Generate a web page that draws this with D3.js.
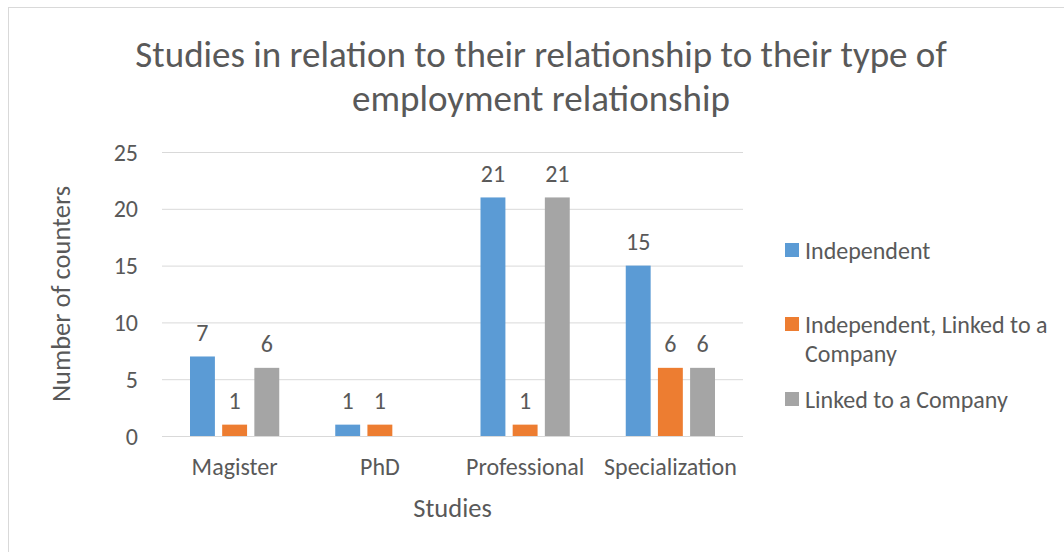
<!DOCTYPE html>
<html lang="en">
<head>
<meta charset="utf-8">
<script src="https://d3js.org/d3.v7.min.js"></script>
<style>
  body { margin: 0; background: #fff; }
  svg { display: block; }
  svg text { font-family: Carlito, Calibri, Lato, sans-serif; fill: #595959; }
  .grid line { stroke: #d9d9d9; stroke-width: 1px; }
  .grid .domain { display: none; }
</style>
</head>
<body>
<svg id="chart" width="1064" height="552"></svg>
<script>
// data
const categories = ["Magister", "PhD", "Professional", "Specialization"]
const seriesNames = ["Independent", "Independent, Linked to a Company", "Linked to a Company"]
const independent = [7, 1, 21, 15]
const independentLinked = [1, 1, 1, 6]
const linked = [6, null, 21, 6]   // PhD has no bar for this series
const yTicks = [0, 5, 10, 15, 20, 25]
const colors = ["#5b9bd5", "#ed7d31", "#a5a5a5"]

const allSeries = [independent, independentLinked, linked]

const svg = d3.select("#chart")
const labelSize = "24px", axisTitleSize = "26.5px"

// chart frame (only top and left edges are inside the picture)
svg.append("rect").attr("x", 8.5).attr("y", 7.5).attr("width", 1200).attr("height", 700)
  .attr("fill", "none").attr("stroke", "#d9d9d9")

// title
const title = svg.append("text").attr("text-anchor", "middle")
  .style("font-size", "37px").style("font-weight", 300)
title.append("tspan").attr("x", 541).attr("y", 67).text("Studies in relation to their relationship to their type of")
title.append("tspan").attr("x", 541).attr("y", 111).text("employment relationship")

const plotLeft = 162, plotRight = 743, plotTop = 152, plotBottom = 436

const x0 = d3.scaleBand().domain(categories).range([plotLeft, plotRight])
const x1 = d3.scaleBand().domain(d3.range(seriesNames.length))
  .range([28, x0.bandwidth() - 28]).paddingInner(0.226)
const y = d3.scaleLinear().domain([0, 25]).range([plotBottom, plotTop])

// gridlines + y labels
svg.append("g").attr("class", "grid")
  .attr("transform", `translate(${plotLeft},0)`)
  .call(d3.axisLeft(y).tickValues(yTicks).tickSize(-(plotRight - plotLeft)).tickPadding(24))
  .attr("font-family", null)
  .call(g => g.selectAll("text").style("font-size", labelSize).attr("dy", "0.34em"))

// bars
const groups = svg.append("g").selectAll("g").data(categories).join("g")
  .attr("transform", d => `translate(${x0(d)},0)`)

const cells = groups.selectAll("g")
  .data((c, ci) => allSeries.map((s, si) => ({ si: si, v: s[ci] })).filter(d => d.v != null))
  .join("g")

cells.append("rect")
  .attr("x", d => x1(d.si))
  .attr("width", x1.bandwidth())
  .attr("y", d => y(d.v))
  .attr("height", d => y(0) - y(d.v))
  .attr("fill", d => colors[d.si])

cells.append("text")
  .attr("x", d => x1(d.si) + x1.bandwidth() / 2)
  .attr("y", d => y(d.v) - 15.5)
  .attr("text-anchor", "middle")
  .style("font-size", labelSize)
  .text(d => d.v)

// x axis labels
svg.append("g").attr("transform", `translate(0,${plotBottom})`)
  .call(d3.axisBottom(x0).tickSize(0).tickPadding(22))
  .attr("font-family", null)
  .call(g => g.select(".domain").remove())
  .call(g => g.selectAll("text").style("font-size", labelSize).attr("dy", "0.71em"))

// axis titles
svg.append("text").attr("text-anchor", "middle")
  .attr("x", (plotLeft + plotRight) / 2).attr("y", 516.5).style("font-size", axisTitleSize).text("Studies")
svg.append("text").attr("text-anchor", "middle")
  .attr("transform", `translate(69.5,${(plotTop + plotBottom) / 2}) rotate(-90)`)
  .style("font-size", axisTitleSize).text("Number of counters")

// legend
const legendItems = [
  { lines: ["Independent"], y: 250 },
  { lines: ["Independent, Linked to a", "Company"], y: 324 },
  { lines: ["Linked to a Company"], y: 399 }
]
const legend = svg.append("g")
legendItems.forEach((it, i) => {
  legend.append("rect").attr("x", 785).attr("y", it.y - 7).attr("width", 14).attr("height", 14)
    .attr("fill", colors[i])
  const t = legend.append("text").style("font-size", labelSize)
  it.lines.forEach((l, j) => t.append("tspan").attr("x", 805).attr("y", it.y + 8.5 + j * 29).text(l))
})
</script>
</body>
</html>
